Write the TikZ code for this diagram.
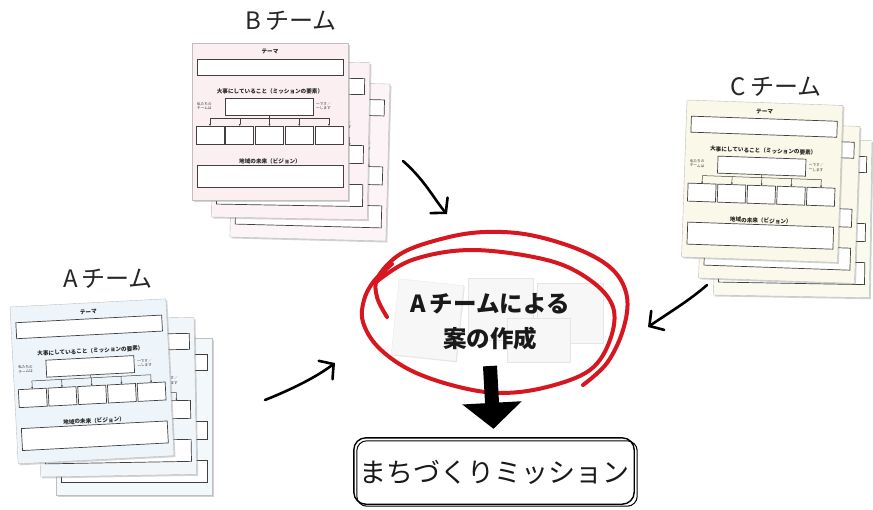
\documentclass[tikz,border=0pt]{standalone}
\usepackage{fontspec}
\setmainfont{Noto Sans CJK JP}
\usetikzlibrary{shadows,arrows.meta,calc}
\definecolor{redpen}{HTML}{D7171F}
\definecolor{pinkS}{HTML}{FBEFF2}
\definecolor{blueS}{HTML}{EEF5FA}
\definecolor{creamS}{HTML}{FAF8E8}
\tikzset{
  sheetbg/.style={draw=black!25, line width=0.4pt, drop shadow={opacity=0.35, shadow xshift=1.5pt, shadow yshift=-1.5pt}},
  sbox/.style={draw=black!75, line width=0.7pt, fill=white},
  stext/.style={font=\fontsize{5.6}{5.6}\selectfont\bfseries, inner sep=0pt, text=black!85},
  ssmall/.style={font=\fontsize{3.6}{4.4}\selectfont, inner sep=0pt, align=left, text=black!80},
  teamtitle/.style={font=\fontsize{24}{24}\selectfont, text=black!85},
  pen/.style={draw=redpen, line width=4pt, line cap=round, line join=round},
  hand/.style={line width=2.6pt, line cap=round, -{Straight Barb[length=10pt,width=23pt,line cap=round]}},
  sticky/.style={fill=black!3, draw=black!10, line width=0.3pt, drop shadow={opacity=0.2, shadow xshift=1pt, shadow yshift=-1pt}},
}
\newcommand{\teamsheet}[6]{% x, y, angle, colour, name prefix, 1 = front sheet
\begin{scope}[shift={(#1,#2)}, rotate=#3, transform shape]
  \path[sheetbg, fill=#4] (0,0) rectangle (156,157);
  \ifnum#6=1
    \node[stext] (#5t) at (78,9) {テーマ};
    \node[stext] (#5m) at (78,48) {大事にしていること（ミッションの要素）};
    \node[ssmall, anchor=west] (#5l) at (5,63) {私たちの\\チームは};
    \node[stext] (#5v) at (78,118) {地域の未来（ビジョン）};
  \fi
  \path[sbox] (5,16) rectangle (151,32);
  \path[sbox] (33,55) rectangle (121,72);
  \node[ssmall, anchor=west] (#5r) at (124,63) {〜です／\\〜します};
  \draw[black!75, line width=0.5pt] (77,72) -- (77,75) (18,75) -- (137,75);
  \foreach \i in {0,...,4} {
    \draw[black!75, line width=0.5pt, -{Latex[length=2pt,width=2pt]}] ({18+\i*29.75},75) -- ({18+\i*29.75},83);
    \path[sbox] ({4+\i*29.75},83) rectangle ({4+\i*29.75+28},101);
  }
  \path[sbox] (5,122) rectangle (151,144);
\end{scope}}
\begin{document}
\begin{tikzpicture}[x=1pt, y=-1pt]
\useasboundingbox[fill=white] (0,0) rectangle (873,509);

% ---- B team
\teamsheet{234}{80}{-1.5}{pinkS!70}{B3}{0}
\teamsheet{214}{60}{-1}{pinkS!85}{B2}{0}
\teamsheet{192}{43}{0}{pinkS}{B1}{1}
\node[teamtitle] (tB) at (291,21) {B\,チーム};

% ---- A team
\teamsheet{56}{338}{0}{blueS!70}{A3}{0}
\teamsheet{38}{320}{1}{blueS!85}{A2}{0}
\teamsheet{10}{307}{3}{blueS}{A1}{1}
\node[teamtitle] (tA) at (108,279) {A\,チーム};

% ---- C team
\teamsheet{716}{138}{-1}{creamS!70}{C3}{0}
\teamsheet{704}{121}{-2}{creamS!85}{C2}{0}
\teamsheet{687}{100}{-2}{creamS}{C1}{1}
\node[teamtitle] (tC) at (776,87) {C\,チーム};

% ---- hand-drawn arrows
\coordinate (bS) at (403,161); \coordinate (bE) at (447,214);
\draw[hand] (bS) .. controls (425,180) and (436,202) .. (bE);
\coordinate (aS) at (265,400); \coordinate (aE) at (335,363);
\draw[hand] (aS) .. controls (290,390) and (315,378) .. (aE);
\coordinate (cS) at (707,285); \coordinate (cE) at (648,327);
\draw[hand] (cS) .. controls (690,300) and (670,312) .. (cE);

% ---- sticky papers
\path[sticky, rotate around={-6:(427,320)}] (395,282) rectangle (460,358);
\path[sticky] (537,283) rectangle (603,343);
\path[sticky] (468,278) rectangle (533,340);
\path[sticky] (507,318) rectangle (570,362);

% ---- red scribble
\draw[pen] plot[smooth, tension=0.6] coordinates {(387,317) (377,297) (378,277) (402,253) (445,238) (485,232) (530,235) (580,250) (613,270) (627,297) (623,330) (607,363) (583,385)};
\draw[pen] plot[smooth, tension=0.6] coordinates {(375,283) (412,260) (472,250) (547,260) (590,280) (613,307) (610,340) (590,370) (547,387) (500,393) (455,386) (410,370) (378,347) (363,322) (364,300) (374,281) (392,264)};

% ---- central text
\node[font=\fontsize{23.5}{35}\selectfont\bfseries, align=center, text=black!90] (ctext) at (490,322) {A\,チームによる\\案の作成};

% ---- mission box
\node[font=\fontsize{27}{27}\selectfont, minimum width=282pt, minimum height=66pt, inner sep=0pt, text=black!90] (mission) at (494,472) {まちづくりミッション};
\draw[line width=1.4pt, rounded corners=12pt] ([shift={(1pt,1pt)}]mission.south west) rectangle ([shift={(-1pt,1pt)}]mission.north east);
\draw[line width=1pt, rounded corners=10pt] ([shift={(4pt,-1pt)}]mission.south west) rectangle ([shift={(2pt,-2pt)}]mission.north east);

% ---- big arrow
\coordinate (bigS) at (490,366);
\draw[line width=14pt, -{Triangle[length=26pt,width=58pt]}, shorten >=10pt] (bigS) -- (mission.north);
\end{tikzpicture}
\end{document}
